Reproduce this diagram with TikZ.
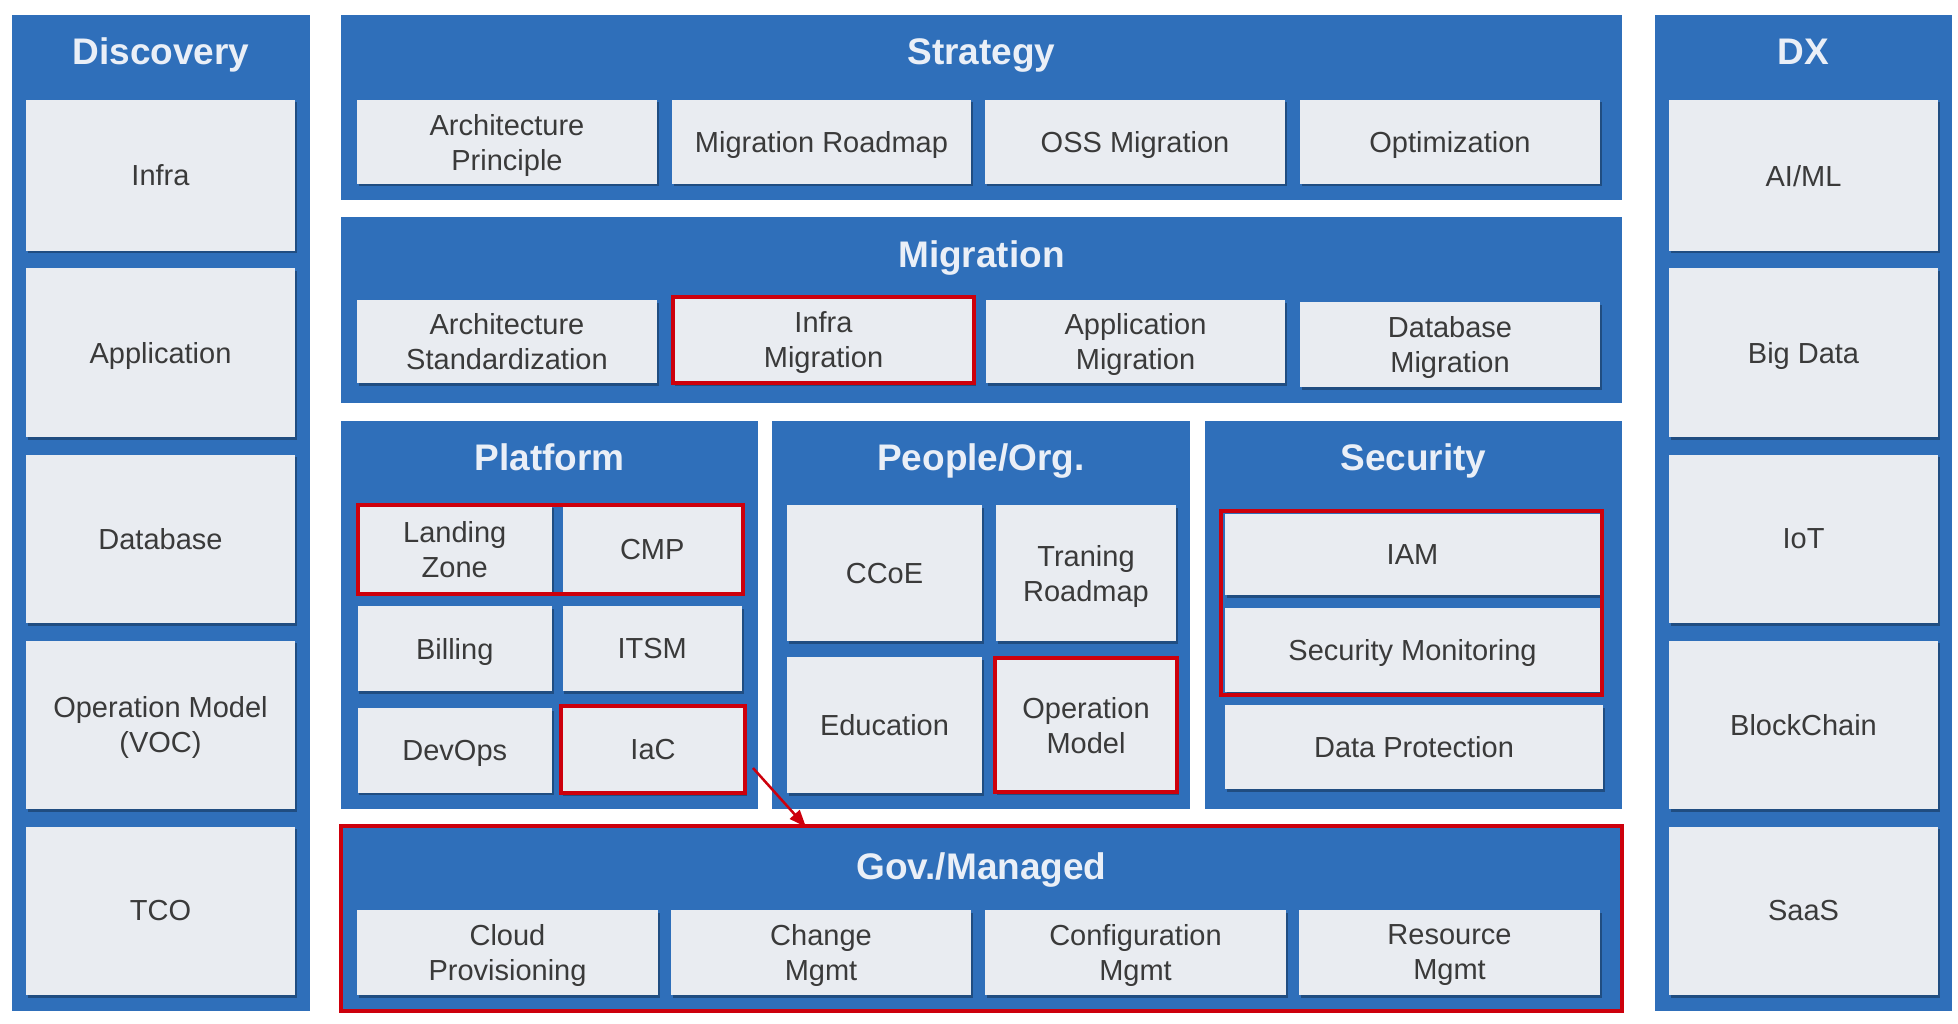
\documentclass[tikz,border=0pt]{standalone}
\usepackage{fontspec}
\setmainfont{Liberation Sans}
\usetikzlibrary{arrows.meta,shadows}
\definecolor{pblue}{RGB}{47,111,186}
\definecolor{bfill}{RGB}{233,236,241}
\definecolor{btext}{RGB}{58,58,58}
\definecolor{ttext}{RGB}{234,239,247}
\definecolor{hred}{RGB}{205,0,12}
\tikzset{
 area/.style n args={4}{at={({(#1+#3)/2},{(#2+#4)/2})}, minimum width={(#3-#1)*1pt}, minimum height={(#4-#2)*1pt}, inner sep=0pt, outer sep=0pt, rectangle},
 panel/.style={fill=pblue, draw=none},
 box/.style={fill=bfill, draw=none, text=btext, font=\fontsize{29}{35}\selectfont, align=center, text depth=0pt, drop shadow={shadow xshift=1.5pt, shadow yshift=-2.5pt, fill=black, opacity=0.3}},
 redbox/.style={box, draw=hred, line width=4pt},
 redframe/.style={draw=hred, line width=4pt, fill=none},
 ptitle/.style={text=ttext, font=\fontsize{37}{40}\selectfont\bfseries, inner sep=0pt, text height=26pt, text depth=0pt},
 redarrow/.style={draw=hred, line width=2.5pt, -{Triangle[length=17pt,width=13pt]}},
}
\begin{document}
\begin{tikzpicture}[x=1pt,y=-1pt]
\useasboundingbox[fill=white] (0,0) rectangle (1958,1024);

% ---------- panels ----------
\node[panel, area={12}{15}{310}{1011}] (disc) {};
\node[panel, area={1655}{15}{1952}{1011}] (dx) {};
\node[panel, area={341}{15}{1622}{200}] (strat) {};
\node[panel, area={341}{217}{1622}{403}] (migr) {};
\node[panel, area={341}{421}{758}{809}] (plat) {};
\node[panel, area={772}{421}{1190}{809}] (peop) {};
\node[panel, area={1205}{421}{1622}{809}] (secu) {};
\node[panel, draw=hred, line width=4pt, area={341}{826}{1622}{1011}] (gov) {};

% ---------- titles ----------
\node[ptitle] (tdisc) at (161,52) {Discovery};
\node[ptitle] (tdx) at (1803,52) {DX};
\node[ptitle] (tstrat) at (981.5,52) {Strategy};
\node[ptitle] (tmigr) at (981.5,254) {Migration};
\node[ptitle] (tplat) at (549.5,457) {Platform};
\node[ptitle] (tpeop) at (981,457) {People/Org.};
\node[ptitle] (tsecu) at (1413.5,457) {Security};
\node[ptitle] (tgov) at (981.5,866) {Gov./Managed};

% ---------- Discovery ----------
\node[box, area={26}{100}{295}{251}] (dinfra) {Infra};
\node[box, area={26}{268}{295}{437}] (dapp) {Application};
\node[box, area={26}{454.5}{295}{623}] (ddb) {Database};
\node[box, area={26}{640.5}{295}{809}] (dop) {Operation Model\\(VOC)};
\node[box, area={26}{826.5}{295}{995}] (dtco) {TCO};

% ---------- DX ----------
\node[box, area={1669}{100}{1938}{251}] (xai) {AI/ML};
\node[box, area={1669}{268}{1938}{437}] (xbig) {Big Data};
\node[box, area={1669}{454.5}{1938}{623}] (xiot) {IoT};
\node[box, area={1669}{640.5}{1938}{809}] (xbc) {BlockChain};
\node[box, area={1669}{826.5}{1938}{995}] (xsaas) {SaaS};

% ---------- Strategy ----------
\node[box, area={357}{100}{657}{184}] (sarch) {Architecture\\Principle};
\node[box, area={672}{100}{971}{184}] (sroad) {Migration Roadmap};
\node[box, area={985}{100}{1285}{184}] (soss) {OSS Migration};
\node[box, area={1300}{100}{1600}{184}] (sopt) {Optimization};

% ---------- Migration ----------
\node[box, area={357}{300}{657}{383}] (march) {Architecture\\Standardization};
\node[redbox, area={673}{297}{974}{383}] (minfra) {Infra\\Migration};
\node[box, area={986}{300}{1285}{383}] (mapp) {Application\\Migration};
\node[box, area={1300}{302}{1600}{387}] (mdb) {Database\\Migration};

% ---------- Platform ----------
\node[box, area={357.5}{505}{552}{593}] (plz) {Landing\\Zone};
\node[box, area={562.5}{505}{742}{593}] (pcmp) {CMP};
\node[box, area={357.5}{606}{552}{691}] (pbill) {Billing};
\node[box, area={562.5}{606}{742}{691}] (pitsm) {ITSM};
\node[box, area={357.5}{708}{552}{792.5}] (pdev) {DevOps};
\node[redbox, area={561}{706}{745}{793}] (piac) {IaC};
\node[redframe, area={357.5}{505}{743}{594}] (pred) {};

% ---------- People/Org ----------
\node[box, area={787}{505}{982}{641}] (occoe) {CCoE};
\node[box, area={996}{505}{1176}{641}] (otrain) {Traning\\Roadmap};
\node[box, area={787}{657}{982}{793}] (oedu) {Education};
\node[redbox, area={995}{658}{1177}{792}] (oop) {Operation\\Model};

% ---------- Security ----------
\node[box, area={1225}{514}{1600}{595}] (siam) {IAM};
\node[box, area={1225}{608}{1600}{692}] (smon) {Security Monitoring};
\node[box, area={1225}{705}{1603}{789}] (sdp) {Data Protection};
\node[redframe, area={1221}{511}{1602}{695}] (sred) {};

% ---------- Gov./Managed ----------
\node[box, area={357}{910}{658}{995}] (gcloud) {Cloud\\Provisioning};
\node[box, area={671}{910}{971}{995}] (gchange) {Change\\Mgmt};
\node[box, area={985}{910}{1286}{995}] (gconf) {Configuration\\Mgmt};
\node[box, area={1299}{910}{1600}{995}] (gres) {Resource\\Mgmt};

% ---------- arrow ----------
\coordinate (arrS) at (753,768);
\coordinate (arrE) at (806,827);
\draw[redarrow] (arrS) -- (arrE);
\end{tikzpicture}
\end{document}
